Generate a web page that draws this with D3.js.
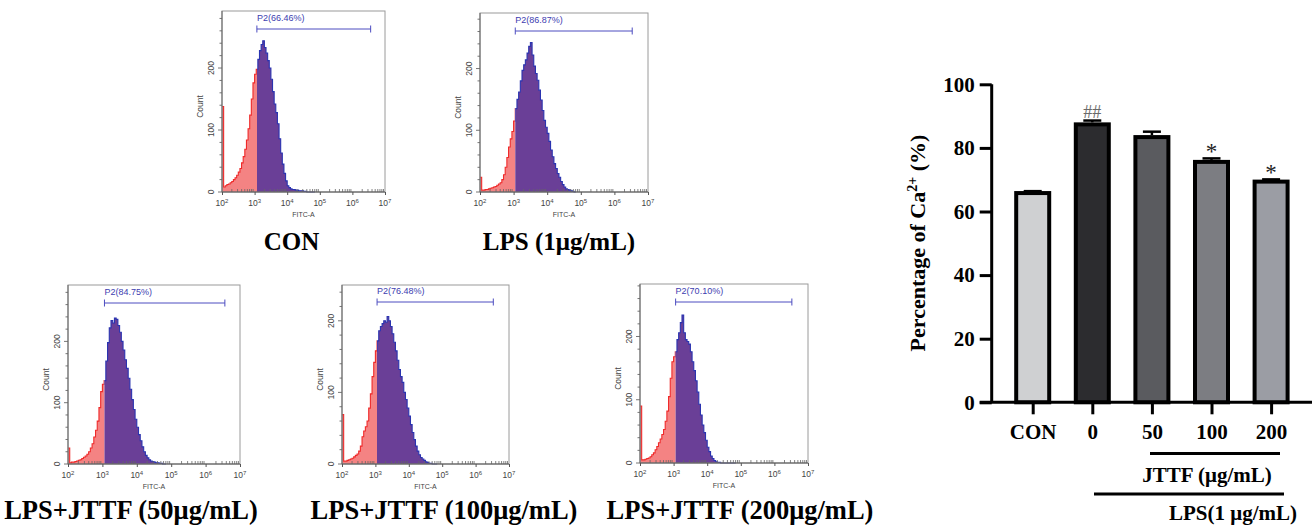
<!DOCTYPE html>
<html>
<head>
<meta charset="utf-8">
<script src="https://cdn.jsdelivr.net/npm/d3@7/dist/d3.min.js"></script>
<style>
  html, body { margin: 0; padding: 0; background: #fff; }
  svg { display: block; }
</style>
</head>
<body>
<svg id="chart" width="1314" height="528"></svg>
<script>
// ---------------- DATA ----------------
// Flow cytometry panels
const panelNames = ["CON", "LPS (1μg/mL)", "LPS+JTTF (50μg/mL)", "LPS+JTTF (100μg/mL)", "LPS+JTTF (200μg/mL)"];
const gateLabels = ["P2(66.46%)", "P2(86.87%)", "P2(84.75%)", "P2(76.48%)", "P2(70.10%)"];
const countMax = [292, 290, 292, 250, 283];
const countTicks = [0, 100, 200];
const fitcTickLabels = ["2", "3", "4", "5", "6", "7"];
// log10(FITC-A) bin starts
const fitcLog = [2.00, 2.05, 2.10, 2.15, 2.20, 2.25, 2.30, 2.35, 2.40, 2.45,
                 2.50, 2.55, 2.60, 2.65, 2.70, 2.75, 2.80, 2.85, 2.90, 2.95,
                 3.00, 3.05, 3.10, 3.15, 3.20, 3.25, 3.30, 3.35, 3.40, 3.45,
                 3.50, 3.55, 3.60, 3.65, 3.70, 3.75, 3.80, 3.85, 3.90, 3.95,
                 4.00, 4.05, 4.10, 4.15, 4.20, 4.25, 4.30, 4.35, 4.40, 4.45,
                 4.50, 4.55, 4.60, 4.65, 4.70, 4.75, 4.80];
const countsCON = [138, 8, 10, 12, 13, 15, 17, 20, 23, 27,
                   32, 38, 47, 57, 69, 84, 102, 124, 150, 176,
                   190, 198, 214, 228, 238, 244, 233, 224, 212, 200,
                   182, 162, 142, 128, 110, 86, 63, 45, 30, 18,
                   10, 7, 5, 4, 4, 3, 3, 2, 2, 2,
                   1, 1, 0, 0, 0, 0, 0];
const countsLPS = [24, 3, 3, 4, 4, 5, 6, 7, 8, 9,
                   11, 13, 15, 20, 28, 40, 56, 73, 86, 98,
                   115, 135, 150, 162, 180, 197, 206, 214, 225, 236,
                   242, 222, 204, 192, 181, 165, 149, 132, 116, 105,
                   95, 82, 68, 57, 46, 38, 30, 24, 17, 12,
                   8, 5, 4, 3, 2, 1, 0];
const counts50 = [26, 2, 3, 3, 4, 5, 6, 7, 9, 11,
                  13, 16, 20, 26, 33, 44, 55, 70, 92, 118,
                  130, 136, 168, 198, 222, 234, 230, 238, 236, 226,
                  215, 200, 186, 170, 156, 140, 122, 105, 89, 73,
                  60, 48, 38, 28, 20, 14, 10, 7, 5, 4,
                  3, 2, 2, 1, 1, 0, 0];
const counts100 = [69, 4, 4, 5, 6, 7, 8, 10, 12, 14,
                   18, 25, 38, 46, 52, 60, 78, 98, 122, 142,
                   158, 172, 186, 192, 196, 200, 198, 206, 200, 192,
                   182, 170, 158, 145, 132, 122, 114, 100, 90, 78,
                   67, 55, 44, 34, 25, 18, 13, 9, 7, 5,
                   3, 2, 1, 1, 0, 0, 0];
const counts200 = [90, 5, 5, 6, 7, 8, 10, 13, 16, 21,
                   26, 32, 38, 45, 53, 66, 82, 105, 134, 160,
                   168, 176, 195, 206, 222, 234, 206, 195, 192, 188,
                   176, 160, 146, 130, 112, 93, 76, 60, 48, 36,
                   25, 18, 11, 7, 4, 2, 1, 1, 0, 0,
                   0, 0, 0, 0, 0, 0, 0];
const gateStartLog = [3.07, 3.05, 3.06, 3.05, 3.06];
const gateEndLog = [6.56, 6.53, 6.56, 6.53, 6.52];

// Bar chart
const barCategories = ["CON", "0", "50", "100", "200"];
const barValues = [65.8, 87.4, 83.4, 75.6, 69.4];
const barErrors = [0.6, 1.2, 1.7, 1.1, 0.7];
const barMarks = ["", "##", "", "*", "*"];
const barTicks = [0, 20, 40, 60, 80, 100];

// ---------------- LAYOUT ----------------
const panelCounts = [countsCON, countsLPS, counts50, counts100, counts200];
const panelBoxes = [
  {l: 222, t: 11, r: 385, b: 192, gy: 29, lx: 291.5, ly: 250, fs: 25},
  {l: 480, t: 13, r: 648, b: 192, gy: 31, lx: 559, ly: 250, fs: 25},
  {l: 68, t: 285, r: 240, b: 464, gy: 303, lx: 131, ly: 519, fs: 26.5},
  {l: 342, t: 285, r: 509, b: 464, gy: 302, lx: 444, ly: 519, fs: 26.5},
  {l: 640, t: 284, r: 808, b: 463, gy: 302, lx: 740, ly: 519, fs: 26.5}
];

const svg = d3.select("#chart");
const serif = "'Liberation Serif','Times New Roman',serif";
const sans = "'Liberation Sans',Arial,sans-serif";
const defs = svg.append("defs");

panelBoxes.forEach((bx, i) => {
  const g = svg.append("g");
  const x = d3.scaleLog().domain([1e2, 1e7]).range([bx.l, bx.r]);
  const y = d3.scaleLinear().domain([0, countMax[i]]).range([bx.b, bx.t]);
  const counts = panelCounts[i];
  const gateX = x(Math.pow(10, gateStartLog[i]));
  const bins = fitcLog.map((lg, k) => ({x0: Math.pow(10, lg), c: counts[k]}));
  bins.push({x0: Math.pow(10, fitcLog[fitcLog.length - 1] + 0.05), c: 0});

  const area = d3.area()
    .x(d => x(d.x0)).y0(y(0)).y1(d => y(d.c))
    .curve(d3.curveStepAfter);
  const line = d3.line()
    .x(d => x(d.x0)).y(d => y(d.c))
    .curve(d3.curveStepAfter);

  const cidL = "clipL" + i, cidR = "clipR" + i;
  defs.append("clipPath").attr("id", cidL).append("rect")
    .attr("x", bx.l - 2).attr("y", bx.t).attr("width", gateX - bx.l + 2).attr("height", bx.b - bx.t + 1);
  defs.append("clipPath").attr("id", cidR).append("rect")
    .attr("x", gateX).attr("y", bx.t).attr("width", bx.r - gateX).attr("height", bx.b - bx.t + 1);

  // red (ungated) part
  g.append("path").datum(bins).attr("d", area).attr("fill", "#f48383")
    .attr("clip-path", `url(#${cidL})`);
  g.append("path").datum(bins).attr("d", line).attr("fill", "none")
    .attr("stroke", "#ef2a2a").attr("stroke-width", 1.1)
    .attr("clip-path", `url(#${cidL})`);
  // purple (gated) part
  g.append("path").datum(bins).attr("d", area).attr("fill", "#6a3f97")
    .attr("clip-path", `url(#${cidR})`);
  g.append("path").datum(bins).attr("d", line).attr("fill", "none")
    .attr("stroke", "#2a33b0").attr("stroke-width", 1.1)
    .attr("clip-path", `url(#${cidR})`);

  // frame
  g.append("rect").attr("x", bx.l).attr("y", bx.t)
    .attr("width", bx.r - bx.l).attr("height", bx.b - bx.t)
    .attr("fill", "none").attr("stroke", "#9a9a9a").attr("stroke-width", 1);
  g.append("line").attr("x1", bx.l).attr("x2", bx.r).attr("y1", bx.b).attr("y2", bx.b)
    .attr("stroke", "#555").attr("stroke-width", 1);
  g.append("line").attr("x1", bx.l).attr("x2", bx.l).attr("y1", bx.t).attr("y2", bx.b)
    .attr("stroke", "#666").attr("stroke-width", 1);

  // x axis: major ticks at decades, minor ticks inside
  const xAxis = d3.axisBottom(x)
    .tickValues(d3.range(2, 7.01, 1).map(e => Math.pow(10, e)))
    .tickSize(3).tickFormat("");
  const xa = g.append("g").attr("transform", `translate(0,${bx.b})`).call(xAxis);
  xa.select(".domain").remove();
  xa.selectAll("line").attr("stroke", "#555");
  const minor = [];
  for (let e = 2; e < 7; e++) for (let m = 2; m <= 9; m++) minor.push(m * Math.pow(10, e));
  g.selectAll(null).data(minor).enter().append("line")
    .attr("x1", d => x(d)).attr("x2", d => x(d))
    .attr("y1", bx.b).attr("y2", bx.b - 3)
    .attr("stroke", "#666").attr("stroke-width", 0.8);
  // x tick labels 10^n
  fitcTickLabels.forEach((p, k) => {
    const t = g.append("text")
      .attr("x", x(Math.pow(10, +p))).attr("y", bx.b + 14)
      .attr("text-anchor", "middle")
      .attr("font-family", sans).attr("font-size", 8.5).attr("fill", "#444");
    t.append("tspan").text("10");
    t.append("tspan").attr("dy", -3).attr("font-size", 6).text(p);
  });
  g.append("text").attr("x", (bx.l + bx.r) / 2).attr("y", bx.b + 25)
    .attr("text-anchor", "middle").attr("font-family", sans)
    .attr("font-size", 7).attr("fill", "#444").text("FITC-A");

  // y axis ticks (outside), minor every 20 counts
  const yMinor = d3.range(0, countMax[i], 20);
  g.selectAll(null).data(yMinor).enter().append("line")
    .attr("x1", bx.l).attr("x2", d => bx.l - (d % 100 === 0 ? 4 : 2.5))
    .attr("y1", d => y(d)).attr("y2", d => y(d))
    .attr("stroke", "#666").attr("stroke-width", 0.9);
  countTicks.forEach(v => {
    g.append("text")
      .attr("transform", `translate(${bx.l - 8},${y(v)}) rotate(-90)`)
      .attr("text-anchor", "middle")
      .attr("font-family", sans).attr("font-size", 8.5).attr("fill", "#444")
      .text(v);
  });
  g.append("text")
    .attr("transform", `translate(${bx.l - 19},${(bx.t + bx.b) / 2 + 5}) rotate(-90)`)
    .attr("text-anchor", "middle").attr("font-family", sans)
    .attr("font-size", 8.5).attr("fill", "#444").text("Count");

  // gate marker
  const gx1 = gateX, gx2 = x(Math.pow(10, gateEndLog[i]));
  g.append("line").attr("x1", gx1).attr("x2", gx2).attr("y1", bx.gy).attr("y2", bx.gy)
    .attr("stroke", "#4c4cc0").attr("stroke-width", 1);
  [gx1, gx2].forEach(xx => g.append("line").attr("x1", xx).attr("x2", xx)
    .attr("y1", bx.gy - 3.5).attr("y2", bx.gy + 3.5)
    .attr("stroke", "#4c4cc0").attr("stroke-width", 1));
  g.append("text").attr("x", gx1).attr("y", bx.gy - 8)
    .attr("font-family", sans).attr("font-size", 9).attr("fill", "#3d3db0")
    .text(gateLabels[i]);

  // panel caption
  svg.append("text").attr("x", bx.lx).attr("y", bx.ly)
    .attr("text-anchor", "middle").attr("font-family", serif)
    .attr("font-weight", "bold").attr("font-size", bx.fs).attr("fill", "#000")
    .text(panelNames[i]);
});

// ---------------- BAR CHART ----------------
const yB = d3.scaleLinear().domain([0, 100]).range([402.3, 84.3]);
const xB = d3.scalePoint().domain(barCategories).range([1002.9, 1300.9]).padding(0.5);
const barW = 33;
const barColors = ["#cfd0d2", "#2c2c2f", "#5a5b5f", "#7c7d82", "#9b9da4"];
const axisX = 991.7;

const bg = svg.append("g");
// bars
bg.selectAll(".bar").data(barCategories).enter().append("rect")
  .attr("x", d => xB(d) - barW / 2)
  .attr("y", (d, i) => yB(barValues[i]))
  .attr("width", barW)
  .attr("height", (d, i) => yB(0) - yB(barValues[i]))
  .attr("fill", (d, i) => barColors[i])
  .attr("stroke", "#000").attr("stroke-width", 4);
// error bars (upper)
barCategories.forEach((c, i) => {
  const cx = xB(c), y1 = yB(barValues[i]) - 2, y2 = yB(barValues[i] + barErrors[i]);
  bg.append("line").attr("x1", cx).attr("x2", cx).attr("y1", y1).attr("y2", y2)
    .attr("stroke", "#000").attr("stroke-width", 2.5);
  bg.append("line").attr("x1", cx - 9).attr("x2", cx + 9).attr("y1", y2).attr("y2", y2)
    .attr("stroke", "#000").attr("stroke-width", 2.5);
  if (barMarks[i] === "##") {
    bg.append("text").attr("x", cx).attr("y", y2 - 3)
      .attr("text-anchor", "middle").attr("font-family", serif)
      .attr("font-size", 18).attr("fill", "#6a6a6a").text(barMarks[i]);
  } else if (barMarks[i] === "*") {
    bg.append("text").attr("x", cx).attr("y", y2 + 1)
      .attr("text-anchor", "middle").attr("font-family", serif)
      .attr("font-size", 23).attr("fill", "#222").text(barMarks[i]);
  }
});

// y axis
const yAxisB = d3.axisLeft(yB).tickValues(barTicks).tickSize(12).tickPadding(5);
const ya = bg.append("g").attr("transform", `translate(${axisX},0)`).call(yAxisB);
ya.select(".domain").attr("stroke", "#000").attr("stroke-width", 3)
  .attr("d", `M0,${yB(100)}V${yB(0)}`);
ya.selectAll(".tick line").attr("stroke", "#000").attr("stroke-width", 3);
ya.selectAll(".tick text").attr("font-family", serif).attr("font-weight", "bold")
  .attr("font-size", 21).attr("fill", "#000");

// x axis
bg.append("line").attr("x1", axisX - 12).attr("x2", 1312).attr("y1", yB(0)).attr("y2", yB(0))
  .attr("stroke", "#000").attr("stroke-width", 3);
const xAxisB = d3.axisBottom(xB).tickSize(12).tickPadding(10);
const xa2 = bg.append("g").attr("transform", `translate(0,${yB(0)})`).call(xAxisB);
xa2.select(".domain").remove();
xa2.selectAll(".tick line").attr("stroke", "#000").attr("stroke-width", 3);
xa2.selectAll(".tick text").attr("font-family", serif).attr("font-weight", "bold")
  .attr("font-size", 21).attr("fill", "#000");

// group lines
bg.append("line").attr("x1", 1150).attr("x2", 1280).attr("y1", 453.5).attr("y2", 453.5)
  .attr("stroke", "#000").attr("stroke-width", 3);
bg.append("text").attr("x", 1207).attr("y", 482).attr("text-anchor", "middle")
  .attr("font-family", serif).attr("font-weight", "bold").attr("font-size", 21)
  .text("JTTF (μg/mL)");
bg.append("line").attr("x1", 1094).attr("x2", 1284).attr("y1", 494).attr("y2", 494)
  .attr("stroke", "#000").attr("stroke-width", 3);
bg.append("text").attr("x", 1233).attr("y", 520).attr("text-anchor", "middle")
  .attr("font-family", serif).attr("font-weight", "bold").attr("font-size", 21)
  .text("LPS(1 μg/mL)");

// y title
const yt = bg.append("text")
  .attr("transform", "translate(925,243) rotate(-90)")
  .attr("text-anchor", "middle").attr("font-family", serif)
  .attr("font-weight", "bold").attr("font-size", 22).attr("fill", "#000");
yt.append("tspan").text("Percentage of Ca");
yt.append("tspan").attr("dy", -8).attr("font-size", 14).text("2+");
yt.append("tspan").attr("dy", 8).text(" (%)");
</script>
</body>
</html>
